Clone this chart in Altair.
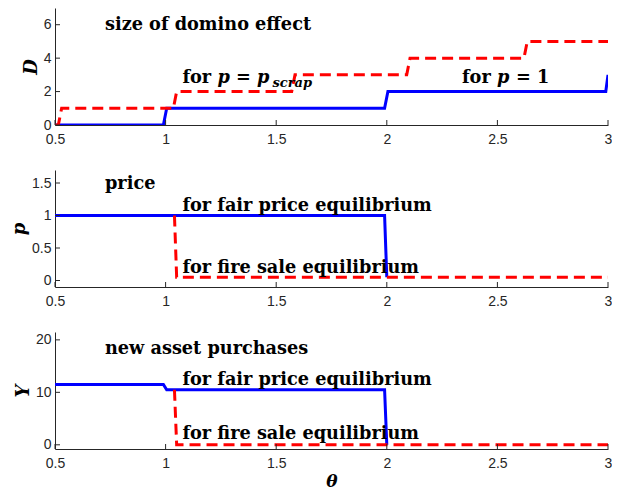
import altair as alt
import pandas as pd

# ---------------- data ----------------
# panel 1: size of domino effect D
theta_D_p1 = [0.5, 0.99, 1.005, 1.99, 2.005, 2.99, 3.0]
D_p1 = [0, 0, 1, 1, 2, 2, 3]
theta_D_scrap = [0.5, 0.515, 0.53, 1.035, 1.05, 1.57, 1.585, 2.09, 2.105, 2.62, 2.635, 3.0]
D_scrap = [0, 0, 1, 1, 2, 2, 3, 3, 4, 4, 5, 5]

# panel 2: price p
theta_p_fair = [0.5, 1.99, 2.0]
p_fair = [1, 1, 0.05]
theta_p_fire = [1.04, 1.05, 3.0]
p_fire = [1, 0.05, 0.05]

# panel 3: new asset purchases Y
theta_Y_fair = [0.5, 0.99, 1.005, 1.99, 2.0]
Y_fair = [11.5, 11.5, 10.5, 10.5, 0]
theta_Y_fire = [1.04, 1.05, 3.0]
Y_fire = [10.5, 0, 0]

x_ticks = [0.5, 1, 1.5, 2, 2.5, 3]
D_ticks = [0, 2, 4, 6]
p_ticks = [0, 0.5, 1, 1.5]
Y_ticks = [0, 10, 20]

x_domain = [0.5, 3]
D_domain = [0, 7]
p_domain = [-0.1, 1.7]
Y_domain = [-0.8, 21.5]

# annotations: (x, y, text)
D_title = (0.726, 6.0, "size of domino effect")
D_ann_scrap = (1.076, 2.8)
D_ann_one = (2.34, 2.8)
p_title = (0.726, 1.48, "price")
p_fair_lbl = (1.076, 1.14, "for fair price equilibrium")
p_fire_lbl = (1.076, 0.2, "for fire sale equilibrium")
Y_title = (0.726, 18.2, "new asset purchases")
Y_fair_lbl = (1.076, 12.4, "for fair price equilibrium")
Y_fire_lbl = (1.076, 2.0, "for fire sale equilibrium")

# ---------------- styling ----------------
W, H = 553, 117
SERIF = "DejaVu Serif"
FS = 17.7
AXC = "#262626"


def lines_df(tf, vf, tr, vr):
    rows = []
    for i, (t, v) in enumerate(zip(tf, vf)):
        rows.append({"x": t, "y": v, "s": "a", "i": i})
    for i, (t, v) in enumerate(zip(tr, vr)):
        rows.append({"x": t, "y": v, "s": "b", "i": i})
    return pd.DataFrame(rows)


def panel(df, ydom, yticks, yfmt, ytitle, texts, xtitle=None):
    xs = alt.Scale(domain=x_domain, nice=False, zero=False)
    ys = alt.Scale(domain=ydom, nice=False, zero=False)
    xaxis = alt.Axis(values=x_ticks, format=".1~f", title=xtitle if xtitle else None,
                     labelFlush=False, labelPadding=7,
                     titleFont=SERIF, titleFontStyle="italic", titleFontWeight="bold",
                     titleFontSize=17, titleColor="black", titlePadding=3)
    yaxis = alt.Axis(values=yticks, format=yfmt, title=ytitle, labelPadding=4,
                     titleFont=SERIF, titleFontStyle="italic", titleFontWeight="bold",
                     titleFontSize=18, titleColor="black", titlePadding=3)
    X = alt.X("x:Q", scale=xs, axis=xaxis)
    Y = alt.Y("y:Q", scale=ys, axis=yaxis)

    blue = alt.Chart(df[df.s == "a"]).mark_line(
        color="#0000ff", strokeWidth=3, strokeJoin="miter", clip=True
    ).encode(x=X, y=Y, order="i:Q")
    red = alt.Chart(df[df.s == "b"]).mark_line(
        color="#ff0000", strokeWidth=3, strokeDash=[11, 6], clip=True
    ).encode(x=X, y=Y, order="i:Q")

    xt = alt.Chart(pd.DataFrame({"x": x_ticks})).mark_rule(color=AXC, strokeWidth=1).encode(
        x=X, y=alt.value(H), y2=alt.value(H - 5))
    yt = alt.Chart(pd.DataFrame({"y": yticks})).mark_rule(color=AXC, strokeWidth=1).encode(
        y=Y, x=alt.value(0), x2=alt.value(5))

    layers = [blue, red, xt, yt]
    for (tx, ty, txt, style, size, dx, dy) in texts:
        layers.append(
            alt.Chart(pd.DataFrame({"x": [tx], "y": [ty], "t": [txt]})).mark_text(
                align="left", baseline="middle", font=SERIF, fontWeight="bold",
                fontStyle=style, fontSize=size, color="black", dx=dx, dy=dy
            ).encode(x=X, y=Y, text="t:N")
        )
    return alt.layer(*layers).properties(width=W, height=H)


def plain(t):
    return (t[0], t[1], t[2], "normal", FS, 0, 0)


p1_texts = [
    plain(D_title),
    (D_ann_scrap[0], D_ann_scrap[1], "for", "normal", FS, 0, 0),
    (D_ann_scrap[0], D_ann_scrap[1], "p = p", "italic", FS, 35, 0),
    (D_ann_scrap[0], D_ann_scrap[1], "scrap", "italic", 13, 90, 5),
    (D_ann_one[0], D_ann_one[1], "for", "normal", FS, 0, 0),
    (D_ann_one[0], D_ann_one[1], "p", "italic", FS, 35, 0),
    (D_ann_one[0], D_ann_one[1], "= 1", "normal", FS, 54, 0),
]
p2_texts = [plain(p_title), plain(p_fair_lbl), plain(p_fire_lbl)]
p3_texts = [plain(Y_title), plain(Y_fair_lbl), plain(Y_fire_lbl)]

c1 = panel(lines_df(theta_D_p1, D_p1, theta_D_scrap, D_scrap), D_domain, D_ticks, "d", "D", p1_texts)
c2 = panel(lines_df(theta_p_fair, p_fair, theta_p_fire, p_fire), p_domain, p_ticks, ".1~f", "p", p2_texts)
c3 = panel(lines_df(theta_Y_fair, Y_fair, theta_Y_fire, Y_fire), Y_domain, Y_ticks, "d", "Y", p3_texts,
           xtitle="θ")

chart = alt.vconcat(c1, c2, c3, spacing=45, bounds="flush").properties(
    padding={"left": 2, "top": 0, "right": 0, "bottom": 0}
).configure_view(stroke=None).configure_axis(
    grid=False, ticks=False, domainColor=AXC, domainWidth=1,
    labelColor=AXC, labelFont="Liberation Sans", labelFontSize=14
)

chart.save("out.html", embed_options={"renderer": "svg", "actions": False})
